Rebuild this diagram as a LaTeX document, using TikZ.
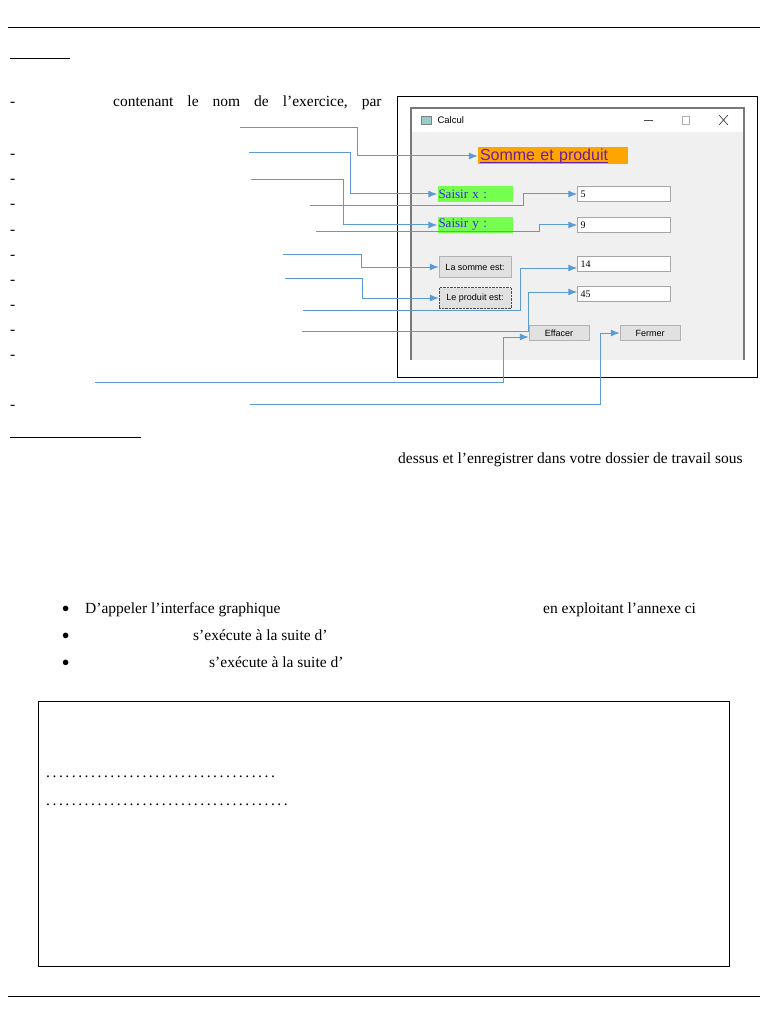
\documentclass[tikz,border=0pt]{standalone}
\usepackage{fontspec}
\setmainfont{Liberation Serif}
\newfontfamily\guifont{Liberation Sans}
\usetikzlibrary{arrows.meta}
\definecolor{arrowblue}{RGB}{91,155,213}
\definecolor{winborder}{RGB}{120,120,120}
\definecolor{clientgray}{RGB}{240,240,240}
\definecolor{saisirgreen}{RGB}{119,255,80}
\definecolor{titleorange}{RGB}{255,165,0}
\definecolor{titlepurple}{RGB}{110,30,160}
\definecolor{labelblue}{RGB}{60,40,230}
\definecolor{btngray}{RGB}{225,225,225}
\tikzset{
  txt/.style={font=\fontsize{15.5}{17}\selectfont, inner sep=0pt, anchor=base west},
  link/.style={arrowblue, line width=1pt, -{Latex[length=9pt,width=7pt]}},
  field/.style={draw=gray!70, fill=white, minimum width=93pt, minimum height=15pt, inner sep=2pt, text width=87pt, font=\fontsize{10}{11}\selectfont},
  button/.style={draw=gray!60, fill=btngray, inner sep=0pt, font=\guifont\fontsize{9}{10}\selectfont},
  saisir/.style={fill=saisirgreen, text=labelblue, minimum width=75pt, minimum height=16pt, inner sep=1pt, text width=73pt, font=\fontsize{13}{14}\selectfont}
}
\begin{document}
\begin{tikzpicture}[x=1pt,y=-1pt]
\useasboundingbox (0,0) rectangle (768,1024);

% page rules and text
\draw[line width=0.7pt] (8,27) -- (760,27);
\draw[line width=0.7pt] (8,996) -- (760,996);
\draw[line width=0.8pt] (10,58) -- (70,58);
\draw[line width=0.8pt] (10,437) -- (141,437);
\foreach \y in {103,155,180,205,230,255,280,305,330,355,405}
  \node[txt] at (10,\y+4) {-};
\node[txt] (intro) at (113,107) {contenant\hspace{14pt}le\hspace{14pt}nom\hspace{14pt}de\hspace{14pt}l’exercice,\hspace{14pt}par};
\node[txt] (dessus) at (398,463) {dessus et l’enregistrer dans votre dossier de travail sous};
\foreach \y in {608,635,662}
  \node[txt] at (62,\y+4) {$\bullet$};
\node[txt] at (85,613) {D’appeler l’interface graphique};
\node[txt] at (543,613) {en exploitant l’annexe ci};
\node[txt] at (193,640) {s’exécute à la suite d’};
\node[txt] at (209,667) {s’exécute à la suite d’};

% answer box
\draw[line width=0.7pt] (38,701) rectangle (729,966);
\node[txt] (dotsA) at (46,777) {\foreach \i in {1,...,36}{.\hspace{2.55pt}}};
\node[txt] (dotsB) at (46,805) {\foreach \i in {1,...,37}{.\hspace{2.55pt}}.};

% window
\draw[line width=0.8pt] (397,96) rectangle (757,377);
\fill[clientgray] (411,108) rectangle (744,360);
\fill[white] (412,109) rectangle (743,132);
\draw[winborder, line width=1.2pt] (411,360) -- (411,108) -- (744,108) -- (744,360);
\draw[gray, fill=teal!40] (421,116) rectangle (431,124);
\node[font=\guifont\fontsize{9.5}{10}\selectfont, anchor=west] (wtitle) at (434,120) {Calcul};
\draw[black!70] (644,120) -- (653,120);
\draw[gray!60] (682,116) rectangle (689,124);
\draw[black!80, line width=0.6pt] (719,115) -- (728,125) (728,115) -- (719,125);

\node[fill=titleorange, text=titlepurple, font=\guifont\fontsize{16}{17}\selectfont, minimum width=150pt, minimum height=17pt, inner sep=1pt, text width=146pt] (titre) at (553,156) {\underbar{Somme et produit}};
\node[saisir] (sx) at (475,194) {Saisir x :};
\node[saisir] (sy) at (475,225) {Saisir y :};
\node[field] (fx) at (624,194) {5};
\node[field] (fy) at (624,225) {9};
\node[field] (fs) at (624,264) {14};
\node[field] (fp) at (624,294) {45};
\node[button, minimum width=72pt, minimum height=21pt] (bs) at (475,267) {La somme est:};
\node[button, densely dotted, draw=black!70, minimum width=72pt, minimum height=21pt] (bp) at (475,298) {Le produit est:};
\node[button, minimum width=60pt, minimum height=15pt] (be) at (559,333) {Effacer};
\node[button, minimum width=60pt, minimum height=15pt] (bf) at (650,333) {Fermer};

% connectors
\coordinate (c1) at (240,128);
\coordinate (c2) at (249,153);
\coordinate (c3) at (251,180);
\coordinate (c4) at (310,206);
\coordinate (c5) at (316,232);
\coordinate (c6) at (283,254);
\coordinate (c7) at (285,278);
\coordinate (c8) at (303,310);
\coordinate (c9) at (302,331);
\coordinate (c10) at (95,382);
\coordinate (c11) at (250,404);
\draw[link] (c1) -| (357,156) -- (titre.west);
\draw[link] (c2) -| (350,194) -- (sx.west);
\draw[link] (c3) -| (343,225) -- (sy.west);
\draw[link] (c4) -| (523,194) -- (fx.west);
\draw[link] (c5) -| (539,225) -- (fy.west);
\draw[link] (c6) -| (361,267) -- (bs.west);
\draw[link] (c7) -| (362,298) -- (bp.west);
\draw[link] (c8) -| (520,268) -- (fs.west |- 0,268);
\draw[link] (c9) -| (528,292) -- (fp.west |- 0,292);
\draw[link] (c10) -| (503,337) -- (be.west |- 0,337);
\draw[link] (c11) -| (600,333) -- (bf.west);
\end{tikzpicture}
\end{document}
